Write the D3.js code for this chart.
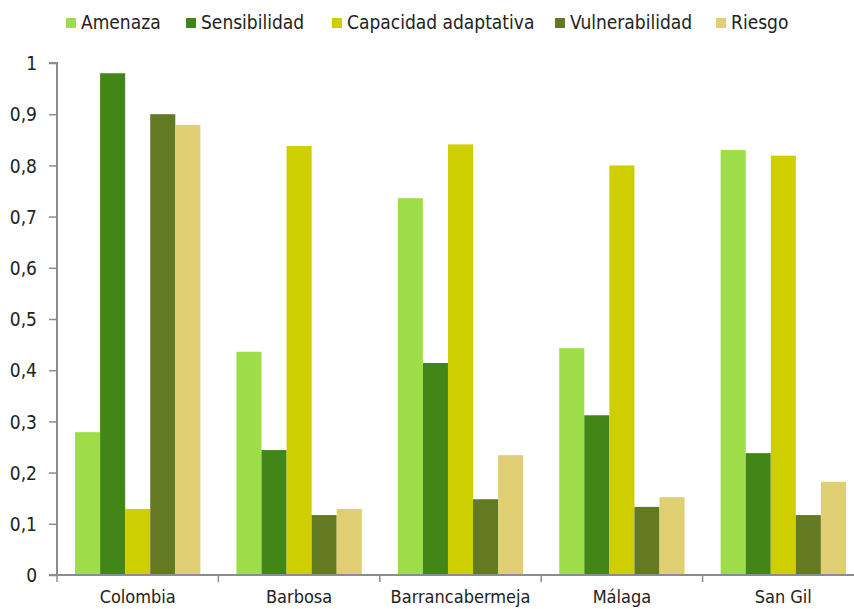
<!DOCTYPE html>
<html><head><meta charset="utf-8">
<script src="https://cdn.jsdelivr.net/npm/d3@7"></script>
<style>
html,body{margin:0;padding:0;background:#fff;}
svg{display:block;font-family:"Liberation Sans Narrow","Arial Narrow","DejaVu Sans Condensed",sans-serif;}
</style></head>
<body>
<svg id="chart" width="854" height="609"></svg>
<script>
const categories = ["Colombia", "Barbosa", "Barrancabermeja", "Málaga", "San Gil"];
const seriesNames = ["Amenaza", "Sensibilidad", "Capacidad adaptativa", "Vulnerabilidad", "Riesgo"];
const amenaza = [0.279, 0.436, 0.736, 0.443, 0.830];
const sensibilidad = [0.980, 0.244, 0.414, 0.312, 0.238];
const capacidad = [0.129, 0.838, 0.841, 0.800, 0.819];
const vulnerabilidad = [0.900, 0.117, 0.148, 0.133, 0.117];
const riesgo = [0.879, 0.129, 0.234, 0.152, 0.182];
const colors = ["#9CDD48", "#428617", "#CFCF00", "#627A22", "#E0CE72"];
const yTicks = [0, 0.1, 0.2, 0.3, 0.4, 0.5, 0.6, 0.7, 0.8, 0.9, 1];

const seriesValues = [amenaza, sensibilidad, capacidad, vulnerabilidad, riesgo];
const svg = d3.select("#chart");
const x0 = 57, x1 = 864, yTop = 63, yBot = 575;

const x = d3.scaleBand().domain(categories).range([x0, x1]).paddingInner(0).paddingOuter(0);
const inner = d3.scaleBand().domain(seriesNames).range([0, x.bandwidth()]).paddingOuter(0.72).paddingInner(0);
const y = d3.scaleLinear().domain([0, 1]).range([yBot, yTop]);

// bars
seriesNames.forEach((s, si) => {
  svg.append("g").selectAll("rect").data(categories).join("rect")
    .attr("x", c => x(c) + inner(s))
    .attr("y", (c, ci) => y(seriesValues[si][ci]))
    .attr("width", inner.bandwidth())
    .attr("height", (c, ci) => y(0) - y(seriesValues[si][ci]))
    .attr("fill", colors[si]);
});

// y axis
const yAxis = d3.axisLeft(y).tickValues(yTicks).tickSize(8).tickPadding(12)
  .tickFormat(d => d === 0 ? "0" : d === 1 ? "1" : d3.format(".1f")(d).replace(".", ","));
const gy = svg.append("g").attr("transform", `translate(${x0},0)`).call(yAxis);
gy.select(".domain").attr("stroke", "#8c8c8c").attr("stroke-width", 2).attr("d", `M-8,${yTop}H0V${yBot+1}`);
gy.selectAll(".tick line").attr("stroke", "#8c8c8c").attr("stroke-width", 1.5);
gy.selectAll(".tick text").attr("fill", "#222").style("font-size", "19px").style("font-family", "'DejaVu Sans Condensed','Liberation Sans Narrow',sans-serif").attr("dy", "0.35em");

// x axis
const gx = svg.append("g").attr("transform", `translate(0,${yBot})`);
gx.append("line").attr("x1", x0 - 8).attr("x2", 854).attr("y1", 0).attr("y2", 0).attr("stroke", "#8c8c8c").attr("stroke-width", 2);
gx.selectAll("line.t").data(categories).join("line").attr("class", "t")
  .attr("x1", c => x(c)).attr("x2", c => x(c)).attr("y1", 0).attr("y2", 7)
  .attr("stroke", "#8c8c8c").attr("stroke-width", 1.5);
gx.selectAll("text").data(categories).join("text")
  .attr("x", c => x(c) + x.bandwidth() / 2).attr("y", 28)
  .attr("text-anchor", "middle").attr("fill", "#222").style("font-size", "18px")
  .text(c => c);

// legend
const legendX = [66, 186, 332, 555, 716];
const lg = svg.append("g");
seriesNames.forEach((s, i) => {
  lg.append("rect").attr("x", legendX[i]).attr("y", 18).attr("width", 10).attr("height", 10).attr("fill", colors[i]);
  lg.append("text").attr("x", legendX[i] + 15).attr("y", 29).attr("fill", "#222").style("font-size", "19px").text(s);
});
</script>
</body></html>
